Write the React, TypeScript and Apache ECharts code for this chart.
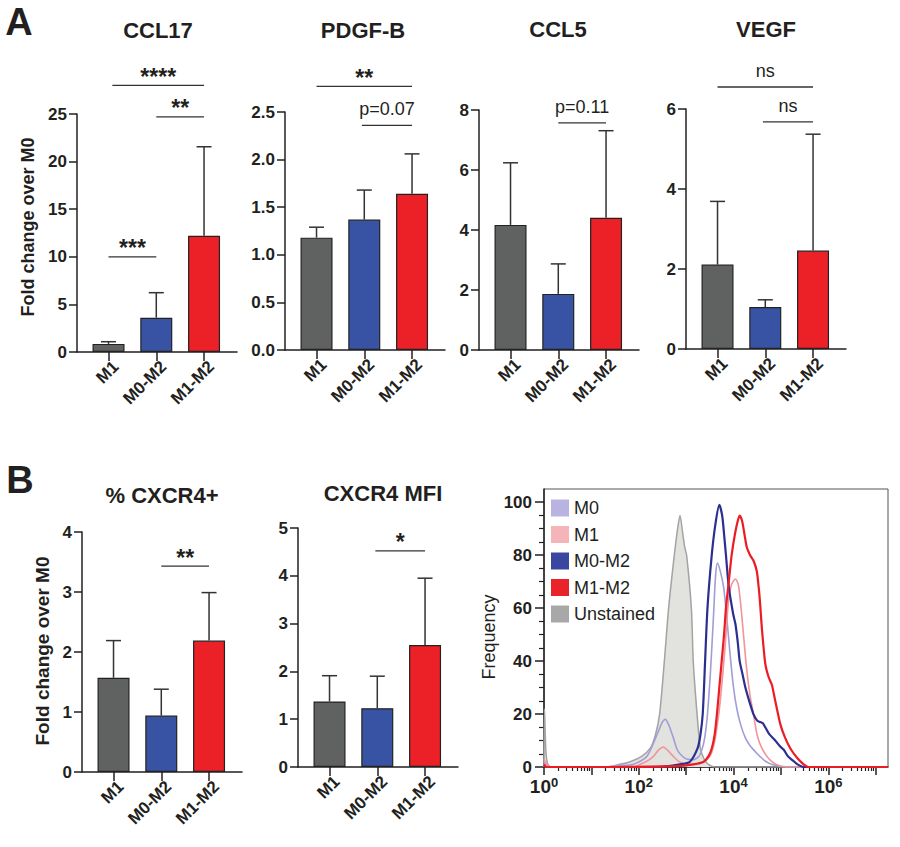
import React, { useEffect, useRef } from "react";
import * as echarts from "echarts";

// ---------- DATA ----------
const groups = ["M1", "M0-M2", "M1-M2"];

const ccl17Mean = [0.85, 3.6, 12.2];
const ccl17Sd = [0.23, 2.63, 9.36];
const pdgfMean = [1.18, 1.37, 1.64];
const pdgfSd = [0.11, 0.31, 0.42];
const ccl5Mean = [4.17, 1.87, 4.41];
const ccl5Sd = [2.07, 1.0, 2.9];
const vegfMean = [2.11, 1.05, 2.46];
const vegfSd = [1.58, 0.18, 2.91];
const cxcr4PctMean = [1.57, 0.94, 2.19];
const cxcr4PctSd = [0.62, 0.44, 0.8];
const cxcr4MfiMean = [1.37, 1.23, 2.55];
const cxcr4MfiSd = [0.54, 0.67, 1.4];

const ccl17Brackets = [
  { from: 0, to: 1, y: 10, label: "***" },
  { from: 0.08, to: 2, y: 28, label: "****" },
  { from: 1, to: 2, y: 24.7, label: "**" },
];
const pdgfBrackets = [
  { from: 0, to: 2, y: 2.77, label: "**" },
  { from: 0.95, to: 2, y: 2.36, label: "p=0.07" },
];
const ccl5Brackets = [{ from: 1, to: 2, y: 7.57, label: "p=0.11" }];
const vegfBrackets = [
  { from: 0, to: 2, y: 6.55, label: "ns" },
  { from: 0.95, to: 2, y: 5.68, label: "ns" },
];
const cxcr4PctBrackets = [{ from: 1, to: 2, y: 3.43, label: "**" }];
const cxcr4MfiBrackets = [{ from: 0.96, to: 2, y: 4.52, label: "*" }];

// Histogram: [log10 fluorescence, frequency]
const unstainedCurve = [
  [0, 0], [0.01, 22], [0.04, 6], [0.08, 1], [0.15, 0], [1.3, 0], [1.6, 1], [1.82, 2], [2.06, 4],
  [2.24, 7], [2.35, 12], [2.44, 20], [2.54, 40], [2.63, 60], [2.75, 80], [2.82, 90], [2.87, 95],
  [2.93, 88], [2.97, 83], [3.01, 80], [3.11, 60], [3.15, 40], [3.23, 20], [3.3, 7], [3.38, 3],
  [3.47, 1], [3.6, 0], [7.26, 0],
];
const m0Curve = [
  [0, 2], [0.05, 1], [0.15, 0], [1.25, 0], [1.6, 0.5], [1.89, 1], [2.17, 4], [2.38, 12], [2.5, 17],
  [2.56, 18], [2.63, 16], [2.73, 11], [2.8, 7], [2.87, 5], [3.01, 3], [3.15, 2.8], [3.27, 4],
  [3.37, 9], [3.44, 18], [3.51, 35], [3.58, 58], [3.62, 72], [3.66, 77], [3.72, 74], [3.79, 68],
  [3.86, 56], [3.93, 42], [4.0, 30], [4.07, 22], [4.15, 16], [4.25, 11], [4.35, 8], [4.5, 5],
  [4.65, 2.5], [4.8, 1], [5.0, 0.3], [5.2, 0], [7.26, 0],
];
const m1Curve = [
  [0, 3], [0.05, 1], [0.15, 0], [1.9, 0], [2.03, 1], [2.2, 2.5], [2.31, 4], [2.42, 6.5], [2.52, 7.5],
  [2.6, 6.5], [2.73, 4], [2.85, 2], [2.94, 1.5], [3.15, 1], [3.37, 2], [3.5, 4], [3.58, 8],
  [3.65, 15], [3.72, 25], [3.82, 45], [3.89, 62], [3.96, 69], [4.04, 71], [4.1, 69], [4.16, 60],
  [4.26, 40], [4.34, 28], [4.42, 20], [4.5, 12], [4.6, 7], [4.75, 3], [4.9, 1], [5.1, 0], [7.26, 0],
];
const m0m2Curve = [
  [0, 0], [2.4, 0], [2.87, 1], [3.08, 2], [3.24, 7], [3.3, 12], [3.35, 20], [3.4, 40], [3.45, 60],
  [3.54, 80], [3.62, 92], [3.7, 99], [3.76, 95], [3.8, 88], [3.84, 80], [3.9, 68], [3.99, 58],
  [4.04, 54], [4.09, 47], [4.13, 40], [4.19, 35], [4.25, 30], [4.33, 25], [4.42, 20], [4.5, 17.5],
  [4.56, 17], [4.62, 16.5], [4.67, 15], [4.75, 12.5], [4.88, 10], [4.97, 8], [5.06, 6.5],
  [5.15, 4], [5.25, 2.5], [5.35, 1], [5.48, 0], [7.26, 0],
];
const m1m2Curve = [
  [0, 1], [0.05, 0], [1.5, 0], [2.8, 0.3], [3.15, 1], [3.37, 2], [3.47, 4], [3.54, 7], [3.6, 12],
  [3.65, 20], [3.7, 30], [3.75, 40], [3.8, 50], [3.84, 60], [3.9, 70], [3.96, 80], [4.03, 88],
  [4.09, 93], [4.13, 95], [4.18, 93], [4.23, 88], [4.28, 83], [4.35, 80], [4.42, 78], [4.49, 74],
  [4.53, 68], [4.56, 62], [4.6, 52], [4.67, 39], [4.74, 34], [4.81, 31], [4.88, 25], [4.99, 16],
  [5.09, 11], [5.2, 7], [5.34, 3.5], [5.48, 1], [5.58, 0], [7.26, 0],
];

const histYTicks = [0, 20, 40, 60, 80, 100];
const histXLabels = [0, 2, 4, 6];
const histXMajor = [0, 1, 2, 3, 4, 5, 6, 7];

// ---------- STYLE / LAYOUT ----------
const FONT = '"Liberation Sans", Arial, Helvetica, sans-serif';
const INK = "#231f20";
const barColors = ["#606261", "#3953a4", "#ec2027"];
const LABEL_SHIFT = 0.15;

const barPanels = [
  { title: "CCL17", mean: ccl17Mean, sd: ccl17Sd, br: ccl17Brackets, max: 25, interval: 5, dec: 0, left: 77, top: 114, bottom: 352, tx: 158, ty: 30 },
  { title: "PDGF-B", mean: pdgfMean, sd: pdgfSd, br: pdgfBrackets, max: 2.5, interval: 0.5, dec: 1, left: 285, top: 112, bottom: 350, tx: 363, ty: 30 },
  { title: "CCL5", mean: ccl5Mean, sd: ccl5Sd, br: ccl5Brackets, max: 8, interval: 2, dec: 0, left: 479, top: 110, bottom: 350, tx: 558, ty: 29 },
  { title: "VEGF", mean: vegfMean, sd: vegfSd, br: vegfBrackets, max: 6, interval: 2, dec: 0, left: 686, top: 109, bottom: 349, tx: 766, ty: 29 },
  { title: "% CXCR4+", mean: cxcr4PctMean, sd: cxcr4PctSd, br: cxcr4PctBrackets, max: 4, interval: 1, dec: 0, left: 82, top: 532, bottom: 772, tx: 162, ty: 495 },
  { title: "CXCR4 MFI", mean: cxcr4MfiMean, sd: cxcr4MfiSd, br: cxcr4MfiBrackets, max: 5, interval: 1, dec: 0, left: 298, top: 528, bottom: 767, tx: 383, ty: 493 },
];

function text(x: number, y: number, t: string, size: number, weight: string, rotation = 0) {
  return {
    type: "text",
    x,
    y,
    rotation,
    style: {
      text: t,
      fontSize: size,
      fontWeight: weight,
      fontFamily: FONT,
      fill: INK,
      align: "center",
      verticalAlign: "middle",
      textAlign: "center",
      textVerticalAlign: "middle",
    },
  };
}

function buildOption() {
  const grid: any[] = [];
  const xAxis: any[] = [];
  const yAxis: any[] = [];
  const series: any[] = [];
  const graphic: any[] = [];

  barPanels.forEach((p, i) => {
    grid.push({ left: p.left, top: p.top, width: 160, height: p.bottom - p.top, containLabel: false });
    xAxis.push({
      gridIndex: i,
      type: "value",
      min: -0.66,
      max: 2.69,
      position: "bottom",
      axisLine: { onZero: false, lineStyle: { color: INK, width: 1.5 } },
      axisTick: { customValues: [0, 1, 2], length: 9, lineStyle: { color: INK, width: 1.5 } },
      axisLabel: {
        customValues: [LABEL_SHIFT, 1 + LABEL_SHIFT, 2 + LABEL_SHIFT],
        formatter: (v: number) => groups[Math.round(v - LABEL_SHIFT)],
        rotate: 45,
        fontSize: 17,
        fontWeight: "bold",
        fontFamily: FONT,
        color: INK,
        margin: 12,
      },
      splitLine: { show: false },
    });
    yAxis.push({
      gridIndex: i,
      type: "value",
      min: 0,
      max: p.max,
      interval: p.interval,
      position: "left",
      axisLine: { show: true, onZero: false, lineStyle: { color: INK, width: 1.5 } },
      axisTick: { show: true, length: 8, lineStyle: { color: INK, width: 1.5 } },
      axisLabel: {
        formatter: (v: number) => v.toFixed(p.dec),
        fontSize: 17,
        fontWeight: "bold",
        fontFamily: FONT,
        color: INK,
        margin: 10,
      },
      splitLine: { show: false },
    });
    series.push({
      type: "bar",
      name: "bars-" + i,
      xAxisIndex: i,
      yAxisIndex: i,
      barWidth: 32,
      data: p.mean.map((v, j) => ({ value: [j, v], itemStyle: { color: barColors[j] } })),
      itemStyle: { borderColor: "#222", borderWidth: 1.2 },
      z: 2,
    });
    series.push({
      type: "custom",
      name: "err-" + i,
      xAxisIndex: i,
      yAxisIndex: i,
      clip: false,
      z: 3,
      data: p.mean.map((v, j) => [j, v, p.sd[j]]),
      renderItem: (params: any, api: any) => {
        const x = api.value(0);
        const v = api.value(1);
        const e = api.value(2);
        const a = api.coord([x, v]);
        const b = api.coord([x, v + e]);
        const st = { stroke: "#333", lineWidth: 1.5 };
        return {
          type: "group",
          children: [
            { type: "line", shape: { x1: a[0], y1: a[1], x2: b[0], y2: b[1] }, style: st },
            { type: "line", shape: { x1: b[0] - 7.5, y1: b[1], x2: b[0] + 7.5, y2: b[1] }, style: st },
          ],
        };
      },
    });
    series.push({
      type: "custom",
      name: "sig-" + i,
      xAxisIndex: i,
      yAxisIndex: i,
      clip: false,
      z: 3,
      data: p.br.map((b) => [b.from, b.y]),
      renderItem: (params: any, api: any) => {
        const b = p.br[params.dataIndex];
        const p1 = api.coord([b.from, b.y]);
        const p2 = api.coord([b.to, b.y]);
        const star = /^\*+$/.test(b.label);
        const mid = (p1[0] + p2[0]) / 2;
        return {
          type: "group",
          children: [
            { type: "line", shape: { x1: p1[0], y1: p1[1], x2: p2[0], y2: p2[1] }, style: { stroke: "#333", lineWidth: 1.3 } },
            {
              type: "text",
              x: mid,
              y: star ? p1[1] - 8.5 : p1[1] - 7,
              style: {
                text: b.label,
                fontSize: star ? 23 : 18,
                fontWeight: star ? "bold" : "normal",
                fontFamily: FONT,
                fill: INK,
                align: "center",
                verticalAlign: star ? "middle" : "bottom",
              },
            },
          ],
        };
      },
    });
    graphic.push(text(p.tx, p.ty, p.title, 22, "bold"));
  });

  // ---- histogram ----
  const hi = barPanels.length;
  grid.push({ left: 544, top: 489, width: 344, height: 278, show: true, borderColor: "#555", borderWidth: 1 });
  const minorX: number[] = [];
  for (let n = 0; n < 8; n++) {
    for (let k = 2; k <= 9; k++) {
      const v = n + Math.log10(k);
      if (v <= 7.26) minorX.push(v);
    }
  }
  const minorY: number[] = [];
  for (let v = 5; v < 105; v += 5) if (v % 20 !== 0) minorY.push(v);

  xAxis.push({
    gridIndex: hi,
    type: "value",
    min: 0,
    max: 7.26,
    position: "bottom",
    axisLine: { onZero: false, lineStyle: { color: INK, width: 1.5 } },
    axisTick: { customValues: histXMajor, length: 8, lineStyle: { color: INK, width: 1.5 } },
    axisLabel: {
      customValues: histXLabels,
      formatter: (v: number) => `{b|10}{s|${v}}`,
      margin: 9,
      color: INK,
      rich: {
        b: { fontSize: 19, fontWeight: "bold", fontFamily: FONT, color: INK, lineHeight: 20 },
        s: { fontSize: 13, fontWeight: "bold", fontFamily: FONT, color: INK, verticalAlign: "top", lineHeight: 12 },
      },
    },
    splitLine: { show: false },
  });
  xAxis.push({
    gridIndex: hi,
    type: "value",
    min: 0,
    max: 7.26,
    position: "bottom",
    axisLine: { show: false, onZero: false },
    axisTick: { customValues: minorX, length: 4, lineStyle: { color: INK, width: 1.2 } },
    axisLabel: { show: false },
    splitLine: { show: false },
  });
  yAxis.push({
    gridIndex: hi,
    type: "value",
    min: 0,
    max: 105,
    position: "left",
    axisLine: { show: true, onZero: false, lineStyle: { color: INK, width: 1.5 } },
    axisTick: { customValues: histYTicks, length: 9, lineStyle: { color: INK, width: 1.5 } },
    axisLabel: {
      customValues: histYTicks,
      fontSize: 17,
      fontWeight: "bold",
      fontFamily: FONT,
      color: INK,
      margin: 12,
    },
    splitLine: { show: false },
  });
  yAxis.push({
    gridIndex: hi,
    type: "value",
    min: 0,
    max: 105,
    position: "left",
    axisLine: { show: false, onZero: false },
    axisTick: { customValues: minorY, length: 5, lineStyle: { color: INK, width: 1.2 } },
    axisLabel: { show: false },
    splitLine: { show: false },
  });

  const lineSeries = (name: string, data: number[][], color: string, width: number, z: number) => ({
    type: "line",
    name,
    xAxisIndex: hi,
    yAxisIndex: hi,
    data,
    symbol: "none",
    showSymbol: false,
    smooth: 0.25,
    color,
    lineStyle: { color, width },
    z,
  });

  series.push({
    ...lineSeries("Unstained", unstainedCurve, "#a3a3a3", 1.5, 2),
    areaStyle: { color: "#e2e3de", opacity: 1 },
  });
  series.push(lineSeries("M0", m0Curve, "#a29dd6", 1.6, 3));
  series.push(lineSeries("M1", m1Curve, "#f0959a", 1.6, 3));
  series.push(lineSeries("M0-M2", m0m2Curve, "#2b2f8f", 2.2, 4));
  series.push(lineSeries("M1-M2", m1m2Curve, "#ec1c24", 2.2, 5));

  // labels
  graphic.push(text(19, 22, "A", 38, "bold"));
  graphic.push(text(20, 480, "B", 38, "bold"));
  graphic.push(text(28, 227, "Fold change over M0", 18, "bold", Math.PI / 2));
  graphic.push(text(42, 651, "Fold change over M0", 19, "bold", Math.PI / 2));
  graphic.push(text(489, 637, "Frequency", 18, "normal", Math.PI / 2));

  return {
    animation: false,
    backgroundColor: "#ffffff",
    textStyle: { fontFamily: FONT },
    grid,
    xAxis,
    yAxis,
    series,
    graphic,
    legend: {
      orient: "vertical",
      left: 546,
      top: 494,
      itemWidth: 18,
      itemHeight: 17,
      itemGap: 8.5,
      icon: "rect",
      selectedMode: false,
      textStyle: { fontSize: 18, fontFamily: FONT, color: INK },
      data: [
        { name: "M0", itemStyle: { color: "#b8b4df" } },
        { name: "M1", itemStyle: { color: "#f5b5b8" } },
        { name: "M0-M2", itemStyle: { color: "#3a47a0" } },
        { name: "M1-M2", itemStyle: { color: "#e8232a" } },
        { name: "Unstained", itemStyle: { color: "#a8a8a8" } },
      ],
    },
  };
}

export default function App() {
  const ref = useRef<HTMLDivElement>(null);
  useEffect(() => {
    document.body.style.margin = "0";
    const chart = echarts.init(ref.current as HTMLDivElement, null, { renderer: "svg" });
    chart.setOption(buildOption() as any);
    return () => chart.dispose();
  }, []);
  return <div ref={ref} style={{ width: 900, height: 847, background: "#fff" }} />;
}
